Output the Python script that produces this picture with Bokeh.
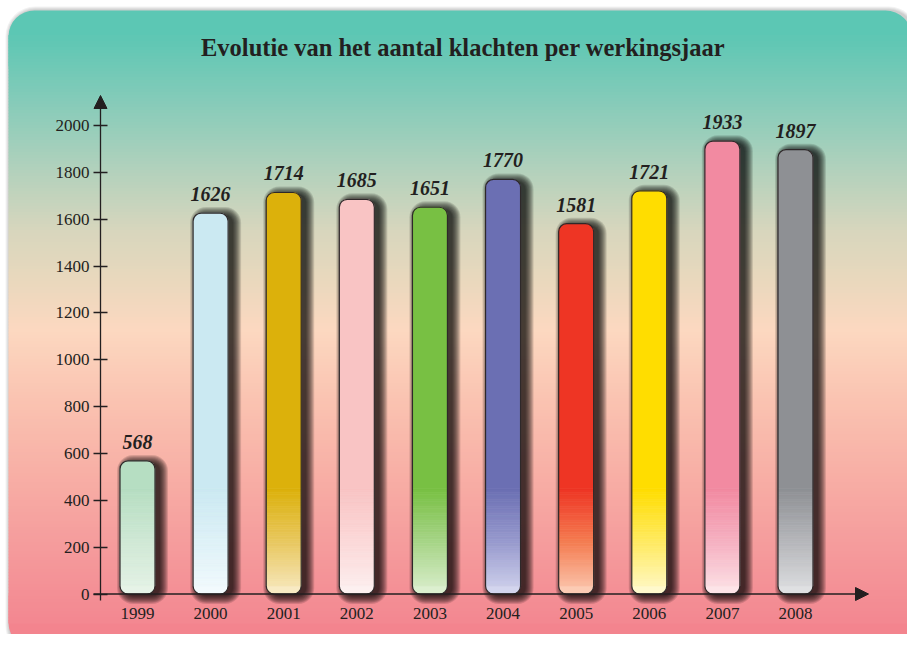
from bokeh.plotting import figure
from bokeh.models import Range1d, LinearAxis, FixedTicker, Arrow, NormalHead, Label, ColumnDataSource
from bokeh.core.properties import value
from bokeh.embed import file_html
from bokeh.resources import INLINE

# ---------------- data ----------------
title_text = "Evolutie van het aantal klachten per werkingsjaar"
years = [1999, 2000, 2001, 2002, 2003, 2004, 2005, 2006, 2007, 2008]
counts = [568, 1626, 1714, 1685, 1651, 1770, 1581, 1721, 1933, 1897]
y_ticks = [0, 200, 400, 600, 800, 1000, 1200, 1400, 1600, 1800, 2000]
top_colors = ["#b6dec2", "#cbe9f2", "#dcb10b", "#f9c4c4", "#78c043",
              "#6b6fb3", "#ee3524", "#ffdd00", "#f28aa1", "#8e9094"]
mid_colors = ["#cfe8d5", "#def1f7", "#e8c75e", "#fbd8d8", "#a6d486",
              "#9799cd", "#f47b50", "#ffea60", "#f5b0c1", "#b5b6ba"]
bottom_colors = ["#e6f3e7", "#f2fafd", "#f8eac3", "#fdf0f0", "#dcefcf",
                 "#d3d5ee", "#fccbb4", "#fff9cc", "#fde4e8", "#dfe0e2"]

# ---------------- layout constants (pixels) ----------------
W, H = 907, 634
X0_PX, DX_PX = 137.0, 73.11       # canvas x of first year, px per year
Y0_PX, PX_PER_UNIT = 593.5, 0.23425
INK = "#231f20"
FONT = "Liberation Serif"
BAR_W = 35
FADE_TOP = 450.0


def px_to_x(cx):
    return years[0] + (cx - X0_PX) / DX_PX


def px_to_y(cy):
    return (Y0_PX - cy) / PX_PER_UNIT


def dy(px):
    return px / PX_PER_UNIT


def dx(px):
    return px / DX_PX


def h2r(h):
    h = h.lstrip("#")
    return tuple(int(h[i:i + 2], 16) for i in (0, 2, 4))


def r2h(c):
    return "#%02x%02x%02x" % tuple(int(round(v)) for v in c)


def interp(stops, pos):
    if pos <= stops[0][0]:
        return stops[0][1]
    for (p0, c0), (p1, c1) in zip(stops[:-1], stops[1:]):
        if p0 <= pos <= p1:
            t = (pos - p0) / (p1 - p0)
            a, b = h2r(c0), h2r(c1)
            return r2h([a[i] + (b[i] - a[i]) * t for i in range(3)])
    return stops[-1][1]


p = figure(width=W, height=H,
           x_range=Range1d(px_to_x(0), px_to_x(W)),
           y_range=Range1d(px_to_y(H), px_to_y(0)),
           x_axis_type=None, y_axis_type=None,
           toolbar_location=None, tools="", output_backend="svg",
           min_border=0)
p.outline_line_color = None
p.background_fill_color = "white"
p.border_fill_color = "white"

# ---------------- panel background ----------------
BG_L, BG_R, BG_T, BG_B = 8, 911, 10, 648
for e in (4, 3, 2, 1):
    p.quad(left=px_to_x(BG_L + 1 - e), right=px_to_x(BG_R + 3 + e),
           top=px_to_y(BG_T - e), bottom=px_to_y(BG_B + 3 + e),
           fill_color="black", fill_alpha=0.05, line_color=None,
           border_radius=26 + e)

bg_stops = [(10, "#5bc7b4"), (40, "#5fc7b4"), (100, "#84cbb9"), (170, "#b2d1bc"),
            (230, "#d7d6bd"), (280, "#e9d8bd"), (330, "#fcd8c0"), (400, "#fac3b1"),
            (470, "#f8b0a6"), (540, "#f59d9d"), (620, "#f38891"), (648, "#f3828d")]
p.quad(left=px_to_x(BG_L), right=px_to_x(BG_R), top=px_to_y(BG_T), bottom=px_to_y(90),
       fill_color=interp(bg_stops, 18), line_color=None, border_radius=26)
p.quad(left=px_to_x(BG_L), right=px_to_x(BG_R), top=px_to_y(570), bottom=px_to_y(BG_B),
       fill_color=interp(bg_stops, 638), line_color=None, border_radius=26)
s_top, s_bot, s_col = [], [], []
cy = 35
while cy < 623:
    s_top.append(px_to_y(cy - 0.6))
    s_bot.append(px_to_y(cy + 3))
    s_col.append(interp(bg_stops, cy + 1.5))
    cy += 3
p.quad(left=px_to_x(BG_L), right=px_to_x(BG_R), top=s_top, bottom=s_bot,
       fill_color=s_col, line_color=None)

# ---------------- bar shadows ----------------
for e in range(8, -1, -1):
    p.vbar(x=[y + dx(5) for y in years], width=dx(BAR_W + 2 * e),
           top=[c - dy(2) + dy(e) for c in counts], bottom=-dy(2) - dy(e),
           fill_color="black", fill_alpha=0.13, line_color=None,
           border_radius=8 + e)

# ---------------- bars with gradient ----------------
p.vbar(x=years, width=dx(BAR_W), top=counts, bottom=0,
       fill_color=bottom_colors, line_color=None, border_radius=8)

sl = dict(x=[], bottom=[], top=[], color=[])
STEP = 10.0
for yr, c, tc, mc, bc in zip(years, counts, top_colors, mid_colors, bottom_colors):
    stops = [(0.0, bc), (FADE_TOP / 2, mc), (FADE_TOP, tc)]
    lim = min(FADE_TOP, c)
    v = 34.0
    while v < lim:
        t = min(v + STEP, lim)
        sl["x"].append(yr)
        sl["bottom"].append(v)
        sl["top"].append(t)
        sl["color"].append(interp(stops, (v + t) / 2))
        v = t
p.vbar(x="x", bottom="bottom", top="top", width=dx(BAR_W),
       fill_color="color", line_color="color", line_width=0.6,
       source=ColumnDataSource(sl))

p.vbar(x=years, width=dx(BAR_W), top=counts,
       bottom=[min(FADE_TOP, c) for c in counts],
       fill_color=top_colors, line_color=top_colors, line_width=0.6,
       border_radius=(8, 8, 0, 0))

p.vbar(x=years, width=dx(BAR_W), top=counts, bottom=0,
       fill_color=None, line_color="#2e2829", line_width=1.2, border_radius=8)

# ---------------- value labels ----------------
p.text(x=years, y=counts, text=[str(c) for c in counts], y_offset=-19,
       text_align="center", text_baseline="alphabetic",
       text_font=value(FONT), text_font_style="bold italic",
       text_font_size="20px", text_color=INK)

# ---------------- axes ----------------
AXIS_X = px_to_x(100)
p.add_layout(Arrow(end=NormalHead(size=13, fill_color=INK, line_color=INK),
                   x_start=AXIS_X, y_start=px_to_y(600), x_end=AXIS_X, y_end=px_to_y(95),
                   line_color=INK, line_width=1.3))
p.add_layout(Arrow(end=NormalHead(size=13, fill_color=INK, line_color=INK),
                   x_start=px_to_x(93), y_start=0, x_end=px_to_x(868), y_end=0,
                   line_color=INK, line_width=1.3))

yaxis = LinearAxis(fixed_location=AXIS_X, ticker=FixedTicker(ticks=y_ticks),
                   axis_line_color=None, major_tick_in=7, major_tick_out=7,
                   major_tick_line_color=INK, major_tick_line_width=1.3,
                   minor_tick_line_color=None, major_label_standoff=4,
                   major_label_text_font=FONT, major_label_text_font_size="17px",
                   major_label_text_color=INK)
p.add_layout(yaxis, "left")

xaxis = LinearAxis(fixed_location=0, ticker=FixedTicker(ticks=years),
                   axis_line_color=None, major_tick_in=0, major_tick_out=0,
                   major_tick_line_color=None, minor_tick_line_color=None,
                   major_label_standoff=14,
                   major_label_text_font=FONT, major_label_text_font_size="17px",
                   major_label_text_color=INK)
p.add_layout(xaxis, "below")

# ---------------- title ----------------
p.add_layout(Label(x=px_to_x(462.5), y=px_to_y(47), text=title_text,
                   text_align="center", text_baseline="alphabetic",
                   text_font=FONT, text_font_style="bold",
                   text_font_size="24.5px", text_color=INK))

open("out.html", "w").write(file_html(p, INLINE))
